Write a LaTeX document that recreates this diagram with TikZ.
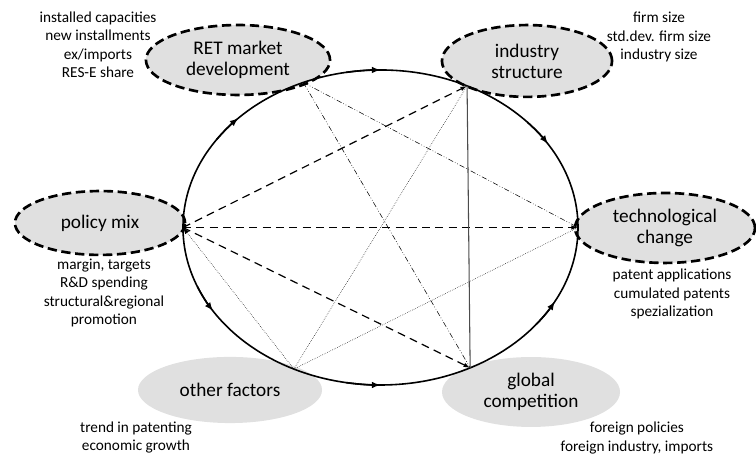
\documentclass[tikz,border=0pt]{standalone}
\usepackage{fontspec}
\setmainfont{Carlito}
\usetikzlibrary{positioning, arrows.meta, shapes.geometric}

\tikzset{
  factor/.style={ellipse, fill=black!12, inner sep=0pt, align=center,
    font=\fontsize{14.5}{15.8}\selectfont},
  keyfactor/.style={factor, draw, line width=2pt, dash pattern=on 7pt off 3.5pt},
  notes/.style={align=center, font=\fontsize{11.5}{13.9}\selectfont},
  ring/.style={line width=1.2pt},
  ringtip/.style={ring, -{Latex[length=6.5pt,width=5pt]}},
  chorddash/.style={line width=0.9pt, dash pattern=on 6pt off 4pt},
  chorddashdot/.style={line width=0.4pt, dash pattern=on 4pt off 1.5pt on 0.5pt off 1.5pt on 0.5pt off 1.5pt},
  chorddot/.style={line width=0.4pt, densely dotted},
  chordtip/.style={-{Latex[length=5pt,width=3.5pt]}}
}

\begin{document}
\begin{tikzpicture}
    \useasboundingbox (0,0) rectangle (20,12.116);

    % Factors
    \node[keyfactor, minimum width=4.87cm, minimum height=1.85cm] (retmarket) at (6.296,10.529) {RET market\\development};
    \node[keyfactor, minimum width=4.5cm, minimum height=1.9cm] (industry) at (13.942,10.503) {industry\\structure};
    \node[keyfactor, minimum width=4.5cm, minimum height=1.69cm] (policy) at (2.646,6.217) {policy mix};
    \node[keyfactor, minimum width=4.76cm, minimum height=1.85cm] (techchange) at (17.593,6.085) {technological\\change};
    \node[factor, minimum width=4.87cm, minimum height=1.75cm] (other) at (6.085,1.799) {other factors};
    \node[factor, minimum width=4.71cm, minimum height=1.85cm] (global) at (14.048,1.746) {global\\competition};

    % Indicators
    \node[notes] (retnotes) at (2.593,10.926) {installed capacities\\new installments\\ex/imports\\RES-E share};
    \node[notes] (industrynotes) at (17.434,11.138) {firm size\\std.dev. firm size\\industry size};
    \node[notes] (policynotes) at (2.751,4.365) {margin, targets\\R\&D spending\\structural\&regional\\promotion};
    \node[notes] (technotes) at (17.778,4.339) {patent applications\\cumulated patents\\spezialization};
    \node[notes] (othernotes) at (3.598,0.542) {trend in patenting\\economic growth};
    \node[notes] (globalnotes) at (16.85,0.529) {foreign policies\\foreign industry, imports};

    % Cycle
    \coordinate (c) at (10.066,6.098);
    \draw[ring] (c) ellipse [x radius=5.225, y radius=4.167];
    \path (c) ++(180:5.225cm and 4.167cm) coordinate (p1);
    \path (c) ++(113:5.225cm and 4.167cm) coordinate (p2);
    \path (c) ++(64:5.225cm and 4.167cm) coordinate (p3);
    \path (c) ++(0:5.225cm and 4.167cm) coordinate (p4);
    \path (c) ++(-63:5.225cm and 4.167cm) coordinate (p5);
    \path (c) ++(-116:5.225cm and 4.167cm) coordinate (p6);

    % Direction marks on the cycle
    \draw[ringtip] (c) ++(146:5.225cm and 4.167cm) arc[start angle=146, end angle=136, x radius=5.225, y radius=4.167];
    \draw[ringtip] (c) ++(100:5.225cm and 4.167cm) arc[start angle=100, end angle=90, x radius=5.225, y radius=4.167];
    \draw[ringtip] (c) ++(42:5.225cm and 4.167cm) arc[start angle=42, end angle=32, x radius=5.225, y radius=4.167];
    \draw[ringtip] (c) ++(-158:5.225cm and 4.167cm) arc[start angle=-158, end angle=-148, x radius=5.225, y radius=4.167];
    \draw[ringtip] (c) ++(-100:5.225cm and 4.167cm) arc[start angle=-100, end angle=-90, x radius=5.225, y radius=4.167];
    \draw[ringtip] (c) ++(-38:5.225cm and 4.167cm) arc[start angle=-38, end angle=-28, x radius=5.225, y radius=4.167];

    % Links
    \draw[chorddash, chordtip] (p1) -- (p3);
    \draw[chorddash, chordtip] (p1) -- (p4);
    \draw[chorddash, chordtip] (p1) -- (p5);
    \draw[chorddot, chordtip] (p6) -- (p1);
    \draw[chorddot] (p6) -- (p3);
    \draw[chorddot] (p6) -- (p4);
    \draw[chorddashdot] (p2) -- (p4);
    \draw[chorddashdot] (p2) -- (p5);
    \draw[gray!60!black, line width=0.8pt] (p3) -- (p5);
\end{tikzpicture}
\end{document}
